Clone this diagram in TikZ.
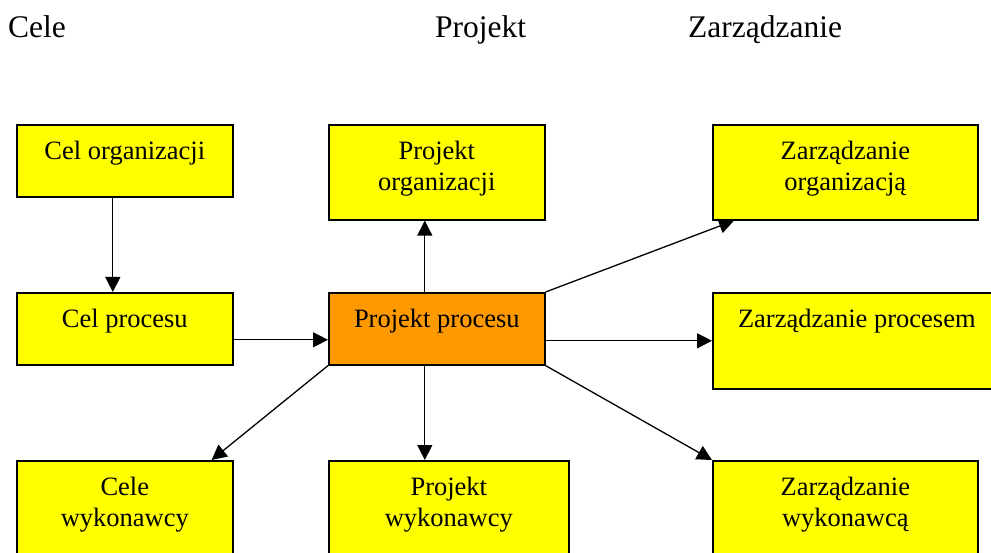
\documentclass[tikz,border=0pt]{standalone}
\usepackage{fontspec}
\setmainfont{Liberation Serif}
\usetikzlibrary{arrows.meta}
\definecolor{boxyellow}{RGB}{255,255,0}
\definecolor{boxorange}{RGB}{255,153,0}

\tikzset{
  box/.style={draw=black,line width=1.6pt,fill=boxyellow,anchor=north west,inner sep=0pt},
  boxtext/.style={anchor=north,align=center,inner sep=0pt,font=\fontsize{26.5}{31.8}\selectfont},
  head/.style={anchor=base west,inner sep=0pt,font=\fontsize{31.5}{37.8}\selectfont},
  arr/.style={line width=1.3pt,-{Triangle[length=15pt,width=15pt]}}
}

\begin{document}
\begin{tikzpicture}[x=1pt,y=-1pt]
  \path[use as bounding box,clip] (0,0) rectangle (991,553);

  % headings
  \node[head] (hcele) at (8,38) {Cele};
  \node[head] (hproj) at (435,38) {Projekt};
  \node[head] (hzarz) at (688,38) {Zarządzanie};

  % left column
  \node[box,minimum width=216pt,minimum height=72pt] (co) at (16,124) {};
  \node[boxtext] (coT) at ([yshift=-12.7pt]co.north) {\strut Cel organizacji};
  \node[box,minimum width=216pt,minimum height=72pt] (cp) at (16,292) {};
  \node[boxtext] (cpT) at ([yshift=-12.7pt]cp.north) {\strut Cel procesu};
  \node[box,minimum width=216pt,minimum height=96pt] (cw) at (16,460) {};
  \node[boxtext] (cwT) at ([yshift=-12.7pt]cw.north) {\strut Cele\\\strut wykonawcy};

  % middle column
  \node[box,minimum width=216pt,minimum height=95pt] (po) at (328,124) {};
  \node[boxtext] (poT) at ([yshift=-12.7pt]po.north) {\strut Projekt\\\strut organizacji};
  \node[box,fill=boxorange,minimum width=216pt,minimum height=72pt] (pp) at (328,292) {};
  \node[boxtext] (ppT) at ([yshift=-12.7pt]pp.north) {\strut Projekt procesu};
  \node[box,minimum width=240pt,minimum height=96pt] (pw) at (328,460) {};
  \node[boxtext] (pwT) at ([yshift=-12.7pt]pw.north) {\strut Projekt\\\strut wykonawcy};

  % right column
  \node[box,minimum width=265pt,minimum height=95pt] (zo) at (712,124) {};
  \node[boxtext] (zoT) at ([yshift=-12.7pt]zo.north) {\strut Zarządzanie\\\strut organizacją};
  \node[box,minimum width=288pt,minimum height=96pt] (zp) at (712,292) {};
  \node[boxtext] (zpT) at ([yshift=-12.7pt]zp.north) {\strut Zarządzanie procesem};
  \node[box,minimum width=265pt,minimum height=96pt] (zw) at (712,460) {};
  \node[boxtext] (zwT) at ([yshift=-12.7pt]zw.north) {\strut Zarządzanie\\\strut wykonawcą};

  % connectors
  \draw[arr] ([xshift=-12pt]co.south) -- ([xshift=-12pt]cp.north);
  \draw[arr] ([yshift=-11pt]cp.east) -- ([yshift=-11pt]pp.west);
  \draw[arr] ([xshift=-12pt]pp.north) -- ([xshift=-12pt]po.south);
  \draw[arr] (pp.north east) -- ([xshift=22pt]zo.south west);
  \draw[arr] ([yshift=-12pt]pp.east) -- (zp.west);
  \draw[arr] (pp.south west) -- ([xshift=-22pt]cw.north east);
  \draw[arr] ([xshift=-12pt]pp.south) -- ([xshift=-24pt]pw.north);
  \draw[arr] (pp.south east) -- (zw.north west);
\end{tikzpicture}
\end{document}
